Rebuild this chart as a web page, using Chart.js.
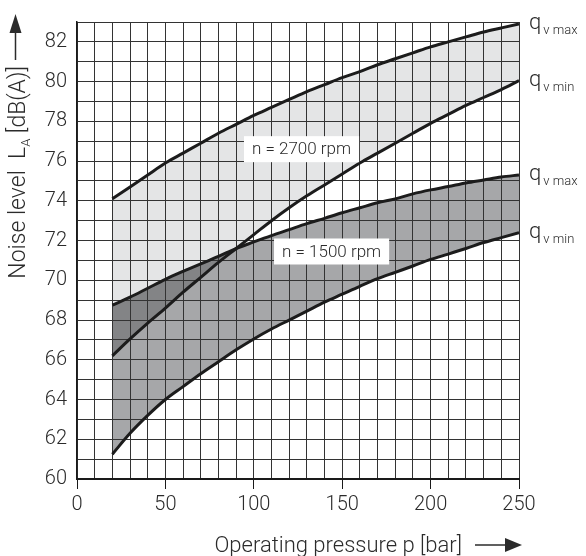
<!DOCTYPE html>
<html>
<head>
<meta charset="utf-8">
<script src="https://cdn.jsdelivr.net/npm/chart.js@4.4.0/dist/chart.umd.min.js"></script>
<style>
    html, body { margin: 0; padding: 0; background: #fff; }
    #wrap { width: 586px; height: 556px; }
</style>
</head>
<body>
<div id="wrap"><canvas id="ruido-chart" width="586" height="556"></canvas></div>
<script>
        // pressão (bar) e nível de ruído (dB(A))
        const pressao = [20, 30, 40, 50, 60, 70, 80, 90, 100, 110, 120, 130, 140, 150, 160, 170, 180, 190, 200, 210, 220, 230, 240, 250];
        const n2700QvMax = [74.1, 74.7, 75.3, 75.9, 76.4, 76.9, 77.4, 77.85, 78.3, 78.7, 79.1, 79.5, 79.85, 80.2, 80.5, 80.85, 81.15, 81.45, 81.75, 82.0, 82.25, 82.5, 82.7, 82.9];
        const n2700QvMin = [66.2, 67.05, 67.85, 68.6, 69.4, 70.15, 70.9, 71.6, 72.3, 73.0, 73.65, 74.25, 74.8, 75.35, 75.9, 76.4, 76.9, 77.4, 77.9, 78.35, 78.8, 79.2, 79.6, 80.05];
        const n1500QvMax = [68.75, 69.15, 69.6, 70.05, 70.45, 70.83, 71.2, 71.6, 71.93, 72.25, 72.55, 72.85, 73.12, 73.4, 73.65, 73.9, 74.1, 74.35, 74.55, 74.72, 74.9, 75.05, 75.2, 75.3];
        const n1500QvMin = [61.25, 62.3, 63.2, 64.0, 64.65, 65.3, 65.9, 66.5, 67.05, 67.55, 68.0, 68.45, 68.9, 69.3, 69.7, 70.08, 70.4, 70.72, 71.05, 71.32, 71.6, 71.9, 72.15, 72.4];

        const xTickLabels = [0, 50, 100, 150, 200, 250];
        const yTickLabels = [60, 62, 64, 66, 68, 70, 72, 74, 76, 78, 80, 82];

        const corTexto = '#2b2b2b';
        const corLinha = '#1c1c1c';
        const corClara = '#e4e5e6';   // faixa 2700 rpm
        const corMedia = '#a6a7a9';   // faixa 1500 rpm
        const corEscura = '#838486';  // sobreposição
        const fonte = 'Roboto, "Liberation Sans", sans-serif';

        function pontos(valores) {
            return pressao.map((p, i) => ({ x: p, y: valores[i] }));
        }

        function linha(valores, extra) {
            return Object.assign({
                data: pontos(valores),
                borderColor: corLinha,
                borderWidth: 3,
                pointRadius: 0,
                cubicInterpolationMode: 'monotone',
                fill: false
            }, extra);
        }

        // textos, subscritos e setas desenhados por cima do gráfico
        const textosPlugin = {
            id: 'textos',
            afterDraw(chart) {
                const ctx = chart.ctx;
                const area = chart.chartArea;
                const xs = chart.scales.x;
                const ys = chart.scales.y;
                ctx.save();
                ctx.fillStyle = corTexto;
                ctx.strokeStyle = corTexto;

                // caixas de rotação
                const caixas = [
                    { texto: 'n = 2700 rpm', x: 127, y: 76.6 },
                    { texto: 'n = 1500 rpm', x: 144, y: 71.45 }
                ];
                ctx.font = '300 17px ' + fonte;
                ctx.textAlign = 'center';
                ctx.textBaseline = 'middle';
                caixas.forEach(c => {
                    const px = xs.getPixelForValue(c.x);
                    const py = ys.getPixelForValue(c.y);
                    const w = ctx.measureText(c.texto).width + 16;
                    ctx.fillStyle = '#fff';
                    ctx.fillRect(px - w / 2, py - 13, w, 26);
                    ctx.fillStyle = corTexto;
                    ctx.fillText(c.texto, px, py + 1);
                });

                // rótulos q v max / q v min no fim das curvas
                const finais = [
                    { sub: 'v max', v: n2700QvMax[n2700QvMax.length - 1] },
                    { sub: 'v min', v: n2700QvMin[n2700QvMin.length - 1] },
                    { sub: 'v max', v: n1500QvMax[n1500QvMax.length - 1] },
                    { sub: 'v min', v: n1500QvMin[n1500QvMin.length - 1] }
                ];
                ctx.textAlign = 'left';
                ctx.textBaseline = 'alphabetic';
                finais.forEach(f => {
                    const py = ys.getPixelForValue(f.v);
                    const px = area.right + 10;
                    ctx.font = '300 22px ' + fonte;
                    ctx.fillText('q', px, py + 5);
                    const wq = ctx.measureText('q').width;
                    ctx.font = '300 13px ' + fonte;
                    ctx.fillText(f.sub, px + wq + 2, py + 10);
                });

                // título do eixo y (girado)
                const partes = [
                    { t: 'Noise level  L', tam: 23, dy: 0 },
                    { t: 'A', tam: 13, dy: 5 },
                    { t: ' [dB(A)]', tam: 23, dy: 0 }
                ];
                let total = 0;
                partes.forEach(p => {
                    ctx.font = '300 ' + p.tam + 'px ' + fonte;
                    p.w = ctx.measureText(p.t).width;
                    total += p.w;
                });
                ctx.save();
                ctx.translate(25, 66);
                ctx.rotate(-Math.PI / 2);
                let cx = -total;
                partes.forEach(p => {
                    ctx.font = '300 ' + p.tam + 'px ' + fonte;
                    ctx.fillText(p.t, cx, p.dy);
                    cx += p.w;
                });
                ctx.restore();

                // seta do eixo y
                ctx.lineWidth = 1.5;
                ctx.beginPath();
                ctx.moveTo(15.5, 60);
                ctx.lineTo(15.5, 30);
                ctx.stroke();
                ctx.beginPath();
                ctx.moveTo(15.5, 14);
                ctx.lineTo(9.5, 33);
                ctx.lineTo(21.5, 33);
                ctx.closePath();
                ctx.fill();

                // título do eixo x e seta
                ctx.font = '300 22px ' + fonte;
                ctx.textAlign = 'right';
                ctx.fillText('Operating pressure p [bar]', 462, 552);
                ctx.beginPath();
                ctx.moveTo(475, 545);
                ctx.lineTo(506, 545);
                ctx.stroke();
                ctx.beginPath();
                ctx.moveTo(522, 545);
                ctx.lineTo(505, 538);
                ctx.lineTo(505, 552);
                ctx.closePath();
                ctx.fill();

                ctx.restore();
            }
        };

        function criarGraficoRuido() {
            const ctx = document.getElementById('ruido-chart').getContext('2d');
            new Chart(ctx, {
                type: 'line',
                data: {
                    datasets: [
                        linha(n2700QvMax, { fill: { target: '+1', above: corClara, below: corClara } }),
                        linha(n2700QvMin),
                        linha(n1500QvMax, { fill: { target: '+1', above: corMedia, below: corMedia } }),
                        linha(n1500QvMin),
                        // só preenche a região comum às duas faixas
                        linha(n1500QvMax, {
                            borderColor: 'rgba(0,0,0,0)',
                            order: -1,
                            fill: { target: 1, above: corEscura, below: 'rgba(0,0,0,0)' }
                        })
                    ]
                },
                options: {
                    responsive: false,
                    animation: false,
                    devicePixelRatio: 1,
                    layout: { padding: { top: 14, right: 67, left: 0, bottom: 0 } },
                    plugins: {
                        legend: { display: false },
                        tooltip: { enabled: false },
                        filler: { drawTime: 'beforeDraw' }
                    },
                    scales: {
                        x: {
                            type: 'linear',
                            min: 0,
                            max: 250,
                            afterFit: function(scale) { scale.height = 77; },
                            border: { color: '#1a1a1a', width: 2 },
                            grid: {
                                color: '#333',
                                lineWidth: 1,
                                tickLength: 10,
                                tickColor: function(c) {
                                    return xTickLabels.includes(c.tick.value) ? '#1a1a1a' : 'rgba(0,0,0,0)';
                                }
                            },
                            ticks: {
                                stepSize: 10,
                                autoSkip: false,
                                maxRotation: 0,
                                padding: 4,
                                color: corTexto,
                                font: { family: fonte, size: 20, weight: 300 },
                                callback: function(value) {
                                    return xTickLabels.includes(value) ? String(value) : '';
                                }
                            }
                        },
                        y: {
                            min: 60,
                            max: 83,
                            afterFit: function(scale) { scale.width = 77; },
                            border: { color: '#1a1a1a', width: 1.5 },
                            grid: {
                                color: '#333',
                                lineWidth: 1,
                                drawTicks: false
                            },
                            ticks: {
                                stepSize: 1,
                                autoSkip: false,
                                padding: 10,
                                color: corTexto,
                                font: { family: fonte, size: 20, weight: 300 },
                                callback: function(value) {
                                    return yTickLabels.includes(value) ? String(value) : '';
                                }
                            }
                        }
                    }
                },
                plugins: [textosPlugin]
            });
        }

        document.addEventListener('DOMContentLoaded', criarGraficoRuido);
</script>
</body>
</html>
